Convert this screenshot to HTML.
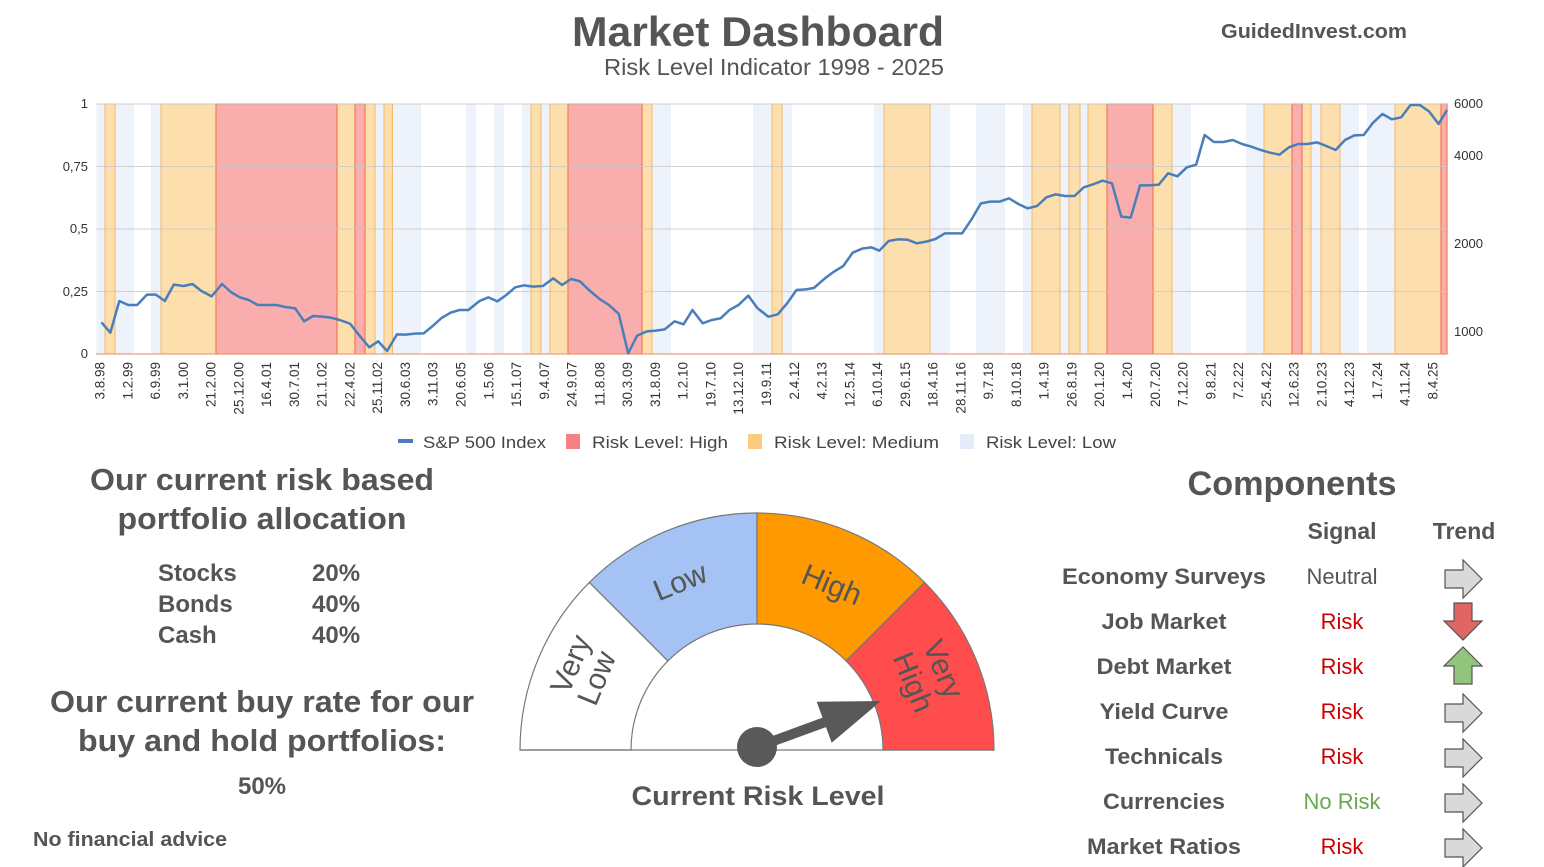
<!DOCTYPE html>
<html><head><meta charset="utf-8"><style>
html,body{margin:0;padding:0;background:#fff;}
svg{display:block;font-family:"Liberation Sans",sans-serif;}
</style></head><body>
<svg width="1544" height="867" viewBox="0 0 1544 867" xmlns="http://www.w3.org/2000/svg">
<!-- header -->
<text x="758" y="46" text-anchor="middle" font-size="42" font-weight="bold" fill="#555" textLength="372" lengthAdjust="spacingAndGlyphs">Market Dashboard</text>
<text x="944" y="75" text-anchor="end" font-size="23" fill="#555" textLength="340" lengthAdjust="spacingAndGlyphs">Risk Level Indicator 1998 - 2025</text>
<text x="1314" y="38" text-anchor="middle" font-size="20" font-weight="bold" fill="#555" textLength="186" lengthAdjust="spacingAndGlyphs">GuidedInvest.com</text>

<!-- bands -->
<g fill="#edf2fb">
<rect x="96.5" y="104" width="8.5" height="250"/><rect x="115" y="104" width="19" height="250"/><rect x="151" y="104" width="10" height="250"/>
<rect x="375" y="104" width="9" height="250"/><rect x="392" y="104" width="29" height="250"/>
<rect x="466" y="104" width="10" height="250"/><rect x="494" y="104" width="10" height="250"/><rect x="522" y="104" width="9" height="250"/>
<rect x="541" y="104" width="9" height="250"/><rect x="652" y="104" width="19" height="250"/><rect x="753" y="104" width="19" height="250"/>
<rect x="782" y="104" width="10" height="250"/><rect x="874" y="104" width="10" height="250"/><rect x="930" y="104" width="20" height="250"/>
<rect x="976" y="104" width="29" height="250"/><rect x="1023" y="104" width="9" height="250"/><rect x="1060" y="104" width="9" height="250"/>
<rect x="1080" y="104" width="8" height="250"/><rect x="1172" y="104" width="19" height="250"/><rect x="1246" y="104" width="18" height="250"/>
<rect x="1311" y="104" width="10" height="250"/><rect x="1340" y="104" width="19" height="250"/><rect x="1367" y="104" width="28" height="250"/>
</g>
<g fill="#fddfae" stroke="#f6b865" stroke-width="1">
<rect x="105" y="104" width="10" height="250"/><rect x="161" y="104" width="55" height="250"/><rect x="337" y="104" width="18" height="250"/>
<rect x="365" y="104" width="10" height="250"/><rect x="384" y="104" width="8.5" height="250"/><rect x="531" y="104" width="10" height="250"/>
<rect x="550" y="104" width="18" height="250"/><rect x="642" y="104" width="10" height="250"/><rect x="772" y="104" width="10" height="250"/>
<rect x="884" y="104" width="46" height="250"/><rect x="1032" y="104" width="28" height="250"/><rect x="1069" y="104" width="11" height="250"/>
<rect x="1088" y="104" width="19" height="250"/><rect x="1153" y="104" width="19" height="250"/><rect x="1264" y="104" width="28" height="250"/>
<rect x="1302" y="104" width="9" height="250"/><rect x="1321" y="104" width="19" height="250"/><rect x="1395" y="104" width="46" height="250"/>
</g>
<g fill="#f9adad" stroke="#f07a55" stroke-width="1.2">
<rect x="216" y="104" width="121" height="250"/><rect x="355" y="104" width="10" height="250"/><rect x="568" y="104" width="74" height="250"/>
<rect x="1107" y="104" width="46" height="250"/><rect x="1292" y="104" width="10" height="250"/><rect x="1441" y="104" width="6" height="250"/>
</g>
<!-- grid -->
<g stroke="#c8c8c8" stroke-width="1" opacity="0.8">
<line x1="96" y1="104" x2="1447" y2="104"/><line x1="96" y1="166.5" x2="1447" y2="166.5"/><line x1="96" y1="229" x2="1447" y2="229"/>
<line x1="96" y1="291.5" x2="1447" y2="291.5"/>
</g>
<line x1="96" y1="354" x2="1447" y2="354" stroke="#e9a080" stroke-width="1.2"/>
<!-- axes labels -->
<g font-size="13" fill="#333" text-anchor="end">
<text x="88" y="108">1</text><text x="88" y="171">0,75</text><text x="88" y="233">0,5</text><text x="88" y="296">0,25</text><text x="88" y="358">0</text>
</g>
<g font-size="13" fill="#333">
<text x="1454" y="108">6000</text><text x="1454" y="160">4000</text><text x="1454" y="248">2000</text><text x="1454" y="336">1000</text>
</g>
<!-- S&P line -->
<g fill="none" stroke="#4a7ebb" stroke-width="2.5" stroke-linejoin="round">
<polyline vector-effect="non-scaling-stroke" transform="translate(80,90) scale(0.4464,0.33333)" points="48,697 68,728 88,633 108,645 128,645 150,614 170,614 190,633 210,584 232,588 252,582 272,603 295,619 318,582 338,606 358,622 378,630 398,645 418,645 440,645 460,651 482,655 502,694 522,678 542,680 562,683 582,690 605,701 625,735 648,772 668,754 688,783 710,733 730,734 750,731 770,730 790,708 810,684 830,668 850,660 870,660 895,633 915,622 935,634 955,615 975,592 995,586 1015,590 1037,588 1060,565 1080,585 1100,567 1120,574 1140,600 1165,628 1185,645 1207,672 1228,790 1248,737 1270,724 1290,722 1310,718 1332,694 1352,703 1372,660 1395,700 1415,690 1435,685 1455,660 1475,645 1497,617 1518,655 1540,678"/>
<polyline vector-effect="non-scaling-stroke" transform="translate(760,90) scale(0.468,0.33333)" points="14,677 18,680 38,673 58,640 78,600 98,598 115,594 138,566 158,545 178,528 198,488 218,476 238,472 255,482 275,453 295,448 315,449 335,460 355,455 375,447 395,430 432,430 452,388 472,340 492,335 512,335 532,325 552,342 572,355 592,348 612,322 632,313 652,318 672,318 692,292 712,283 732,272 752,280 772,380 792,383 812,286 832,286 852,284 872,250 892,259 912,232 932,224 950,135 970,156 990,156 1010,150 1030,162 1050,170 1070,180 1090,188 1110,194 1130,172 1150,162 1170,162 1190,157 1210,168 1230,180 1250,150 1270,136 1290,135 1310,98 1330,72 1350,88 1370,82 1390,45 1410,45 1430,65 1450,102 1468,60"/>
</g>
<!-- legend -->
<g font-size="17" fill="#444">
<rect x="398" y="439" width="15" height="4" fill="#4a7ebb"/>
<text x="423" y="448" textLength="123" lengthAdjust="spacingAndGlyphs">S&amp;P 500 Index</text>
<rect x="566" y="434" width="14" height="15" fill="#f98080"/>
<text x="592" y="448" textLength="136" lengthAdjust="spacingAndGlyphs">Risk Level: High</text>
<rect x="748" y="434" width="14" height="15" fill="#fdcb7d"/>
<text x="774" y="448" textLength="165" lengthAdjust="spacingAndGlyphs">Risk Level: Medium</text>
<rect x="960" y="434" width="14" height="15" fill="#e4ebfa"/>
<text x="986" y="448" textLength="130" lengthAdjust="spacingAndGlyphs">Risk Level: Low</text>
</g>

<!-- left panel -->
<g fill="#555" font-weight="bold">
<text x="262" y="490" text-anchor="middle" font-size="31" textLength="344" lengthAdjust="spacingAndGlyphs">Our current risk based</text>
<text x="262" y="529" text-anchor="middle" font-size="31" textLength="289" lengthAdjust="spacingAndGlyphs">portfolio allocation</text>
<text x="158" y="581" font-size="24">Stocks</text><text x="312" y="581" font-size="24">20%</text>
<text x="158" y="612" font-size="24">Bonds</text><text x="312" y="612" font-size="24">40%</text>
<text x="158" y="643" font-size="24">Cash</text><text x="312" y="643" font-size="24">40%</text>
<text x="262" y="712" text-anchor="middle" font-size="31" textLength="424" lengthAdjust="spacingAndGlyphs">Our current buy rate for our</text>
<text x="262" y="751" text-anchor="middle" font-size="31" textLength="368" lengthAdjust="spacingAndGlyphs">buy and hold portfolios:</text>
<text x="262" y="794" text-anchor="middle" font-size="24">50%</text>
<text x="33" y="846" font-size="20" textLength="194" lengthAdjust="spacingAndGlyphs">No financial advice</text>
</g>

<!-- gauge -->
<g stroke="#777" stroke-width="1.2">
<path d="M520,750 A237,237 0 0 1 589.4,582.4 L667.9,660.9 A126,126 0 0 0 631,750 Z" fill="#fff"/>
<path d="M589.4,582.4 A237,237 0 0 1 757,513 L757,624 A126,126 0 0 0 667.9,660.9 Z" fill="#a4c2f4"/>
<path d="M757,513 A237,237 0 0 1 924.6,582.4 L846.1,660.9 A126,126 0 0 0 757,624 Z" fill="#ff9900"/>
<path d="M924.6,582.4 A237,237 0 0 1 994,750 L883,750 A126,126 0 0 0 846.1,660.9 Z" fill="#ff4d4d"/>
<line x1="520" y1="750" x2="994" y2="750"/>
</g>
<g font-size="30" fill="#555" text-anchor="middle">
<text transform="translate(684,591) rotate(-22.5)">Low</text>
<text transform="translate(828,594) rotate(22.5)">High</text>
<text transform="translate(580,668) rotate(-67.5)">Very</text>
<text transform="translate(606,682) rotate(-67.5)">Low</text>
<text transform="translate(934,673) rotate(67.5)">Very</text>
<text transform="translate(904,686) rotate(67.5)">High</text>
</g>
<g fill="#595959">
<line x1="757" y1="747" x2="828" y2="721" stroke="#595959" stroke-width="10"/>
<polygon points="816.7,701.7 881,701 831.7,742.7"/>
<circle cx="757" cy="747" r="20"/>
</g>
<text x="758" y="805" text-anchor="middle" font-size="27" font-weight="bold" fill="#555" textLength="253" lengthAdjust="spacingAndGlyphs">Current Risk Level</text>

<!-- components -->
<g fill="#555">
<text x="1292" y="495" text-anchor="middle" font-size="34" font-weight="bold" textLength="209" lengthAdjust="spacingAndGlyphs">Components</text>
<text x="1342" y="539" text-anchor="middle" font-size="23" font-weight="bold">Signal</text>
<text x="1464" y="539" text-anchor="middle" font-size="23" font-weight="bold">Trend</text>
<g font-size="22" font-weight="bold" text-anchor="middle" lengthAdjust="spacingAndGlyphs">
<text x="1164" y="584" textLength="204" lengthAdjust="spacingAndGlyphs">Economy Surveys</text>
<text x="1164" y="629" textLength="125" lengthAdjust="spacingAndGlyphs">Job Market</text>
<text x="1164" y="674" textLength="135" lengthAdjust="spacingAndGlyphs">Debt Market</text>
<text x="1164" y="719" textLength="129" lengthAdjust="spacingAndGlyphs">Yield Curve</text>
<text x="1164" y="764" textLength="118" lengthAdjust="spacingAndGlyphs">Technicals</text>
<text x="1164" y="809" textLength="122" lengthAdjust="spacingAndGlyphs">Currencies</text>
<text x="1164" y="854" textLength="154" lengthAdjust="spacingAndGlyphs">Market Ratios</text>
</g>
<g font-size="22" text-anchor="middle">
<text x="1342" y="584" fill="#555">Neutral</text>
<text x="1342" y="629" fill="#cc0000">Risk</text>
<text x="1342" y="674" fill="#cc0000">Risk</text>
<text x="1342" y="719" fill="#cc0000">Risk</text>
<text x="1342" y="764" fill="#cc0000">Risk</text>
<text x="1342" y="809" fill="#6aa84f">No Risk</text>
<text x="1342" y="854" fill="#cc0000">Risk</text>
</g>
</g>
<g stroke="#555" stroke-width="1.2">
<path transform="translate(1463,579)" d="M-18,-9 H0 V-19 L19,0 L0,19 V9 H-18 Z" fill="#d9d9d9"/>
<path transform="translate(1463,621) rotate(90)" d="M-18,-9 H0 V-19 L19,0 L0,19 V9 H-18 Z" fill="#e06666"/>
<path transform="translate(1463,666) rotate(-90)" d="M-18,-9 H0 V-19 L19,0 L0,19 V9 H-18 Z" fill="#93c47d"/>
<path transform="translate(1463,713)" d="M-18,-9 H0 V-19 L19,0 L0,19 V9 H-18 Z" fill="#d9d9d9"/>
<path transform="translate(1463,758)" d="M-18,-9 H0 V-19 L19,0 L0,19 V9 H-18 Z" fill="#d9d9d9"/>
<path transform="translate(1463,803)" d="M-18,-9 H0 V-19 L19,0 L0,19 V9 H-18 Z" fill="#d9d9d9"/>
<path transform="translate(1463,848)" d="M-18,-9 H0 V-19 L19,0 L0,19 V9 H-18 Z" fill="#d9d9d9"/>
</g>

<g font-size="13.5" fill="#333" text-anchor="end">
<text transform="translate(104.5,362) rotate(-90)">3.8.98</text>
<text transform="translate(132.3,362) rotate(-90)">1.2.99</text>
<text transform="translate(160,362) rotate(-90)">6.9.99</text>
<text transform="translate(187.8,362) rotate(-90)">3.1.00</text>
<text transform="translate(215.6,362) rotate(-90)">21.2.00</text>
<text transform="translate(243.4,362) rotate(-90)">25.12.00</text>
<text transform="translate(271.1,362) rotate(-90)">16.4.01</text>
<text transform="translate(298.9,362) rotate(-90)">30.7.01</text>
<text transform="translate(326.7,362) rotate(-90)">21.1.02</text>
<text transform="translate(354.4,362) rotate(-90)">22.4.02</text>
<text transform="translate(382.2,362) rotate(-90)">25.11.02</text>
<text transform="translate(410,362) rotate(-90)">30.6.03</text>
<text transform="translate(437.7,362) rotate(-90)">3.11.03</text>
<text transform="translate(465.5,362) rotate(-90)">20.6.05</text>
<text transform="translate(493.3,362) rotate(-90)">1.5.06</text>
<text transform="translate(521.1,362) rotate(-90)">15.1.07</text>
<text transform="translate(548.8,362) rotate(-90)">9.4.07</text>
<text transform="translate(576.6,362) rotate(-90)">24.9.07</text>
<text transform="translate(604.4,362) rotate(-90)">11.8.08</text>
<text transform="translate(632.1,362) rotate(-90)">30.3.09</text>
<text transform="translate(659.9,362) rotate(-90)">31.8.09</text>
<text transform="translate(687.7,362) rotate(-90)">1.2.10</text>
<text transform="translate(715.5,362) rotate(-90)">19.7.10</text>
<text transform="translate(743.2,362) rotate(-90)">13.12.10</text>
<text transform="translate(771,362) rotate(-90)">19.9.11</text>
<text transform="translate(798.8,362) rotate(-90)">2.4.12</text>
<text transform="translate(826.5,362) rotate(-90)">4.2.13</text>
<text transform="translate(854.3,362) rotate(-90)">12.5.14</text>
<text transform="translate(882.1,362) rotate(-90)">6.10.14</text>
<text transform="translate(909.8,362) rotate(-90)">29.6.15</text>
<text transform="translate(937.6,362) rotate(-90)">18.4.16</text>
<text transform="translate(965.4,362) rotate(-90)">28.11.16</text>
<text transform="translate(993.2,362) rotate(-90)">9.7.18</text>
<text transform="translate(1020.9,362) rotate(-90)">8.10.18</text>
<text transform="translate(1048.7,362) rotate(-90)">1.4.19</text>
<text transform="translate(1076.5,362) rotate(-90)">26.8.19</text>
<text transform="translate(1104.2,362) rotate(-90)">20.1.20</text>
<text transform="translate(1132,362) rotate(-90)">1.4.20</text>
<text transform="translate(1159.8,362) rotate(-90)">20.7.20</text>
<text transform="translate(1187.5,362) rotate(-90)">7.12.20</text>
<text transform="translate(1215.3,362) rotate(-90)">9.8.21</text>
<text transform="translate(1243.1,362) rotate(-90)">7.2.22</text>
<text transform="translate(1270.9,362) rotate(-90)">25.4.22</text>
<text transform="translate(1298.6,362) rotate(-90)">12.6.23</text>
<text transform="translate(1326.4,362) rotate(-90)">2.10.23</text>
<text transform="translate(1354.2,362) rotate(-90)">4.12.23</text>
<text transform="translate(1381.9,362) rotate(-90)">1.7.24</text>
<text transform="translate(1409.7,362) rotate(-90)">4.11.24</text>
<text transform="translate(1437.5,362) rotate(-90)">8.4.25</text>
</g>
</svg>
</body></html>
